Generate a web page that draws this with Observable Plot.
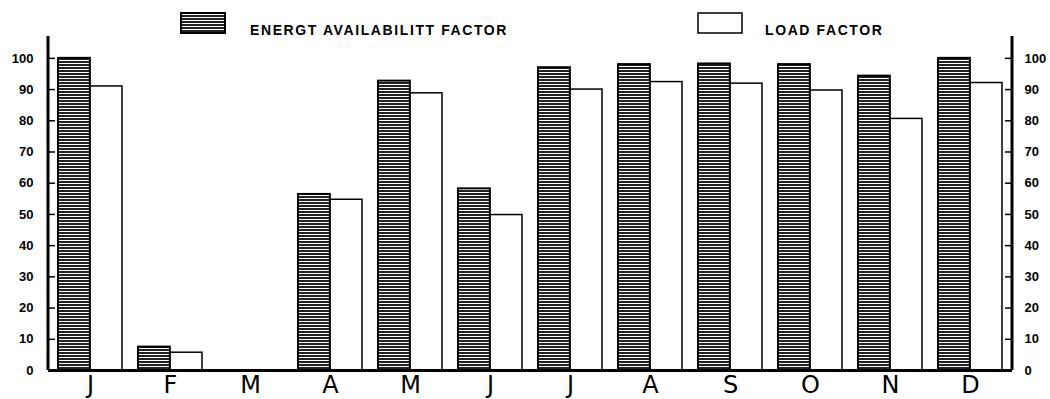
<!DOCTYPE html>
<html>
<head>
<meta charset="utf-8">
<script src="https://cdn.jsdelivr.net/npm/d3@7"></script>
<script src="https://cdn.jsdelivr.net/npm/@observablehq/plot@0.6"></script>
<style>
  html, body { margin: 0; padding: 0; background: #fff; }
  #legend { position: relative; width: 1050px; height: 34px; font-family: "Liberation Sans", Arial, sans-serif; font-weight: bold; font-size: 14px; letter-spacing: 1.6px; color: #000; }
  #legend .sw { position: absolute; top: 12px; width: 46px; height: 22px; box-sizing: border-box; }
  #legend .lab { position: absolute; top: 23px; line-height: 14px; white-space: nowrap; }
  #chart svg { display: block; }
</style>
</head>
<body>
<div id="legend"></div>
<div id="chart"></div>
<script>
// ---- data ----
const monthLabels = ["J", "F", "M", "A", "M", "J", "J", "A", "S", "O", "N", "D"];
const energyAvailability = [100, 7.5, 0, 56.4, 92.7, 58.2, 97, 98, 98.2, 98, 94.3, 100];
const loadFactor = [91, 5.7, 0, 54.7, 88.8, 49.8, 90, 92.4, 91.9, 89.7, 80.6, 92.1];
const seriesNames = ["ENERGT AVAILABILITT FACTOR", "LOAD FACTOR"];
const yTicks = [0, 10, 20, 30, 40, 50, 60, 70, 80, 90, 100];

const rows = monthLabels.map((m, i) => ({i, energy: energyAvailability[i], load: loadFactor[i]}));

// ---- legend (with stripe pattern defs) ----
const legend = document.getElementById("legend");
legend.innerHTML = `
  <svg width="0" height="0" style="position:absolute">
    <defs>
      <pattern id="stripes" patternUnits="userSpaceOnUse" width="6" height="3">
        <rect x="0" y="0" width="6" height="3" fill="#fff"/>
        <rect x="0" y="0" width="6" height="2" fill="#222"/>
      </pattern>
    </defs>
  </svg>
  <svg class="sw" style="left:180px" width="46" height="22"><rect x="1" y="1" width="44" height="20" fill="url(#stripes)" stroke="#000" stroke-width="2"/></svg>
  <div class="lab" style="left:250px">${seriesNames[0]}</div>
  <svg class="sw" style="left:697px" width="46" height="22"><rect x="1" y="1" width="44" height="20" fill="#fff" stroke="#000" stroke-width="1.5"/></svg>
  <div class="lab" style="left:765px">${seriesNames[1]}</div>
`;

// ---- chart ----
const W = 1050, H = 365, mL = 48, mR = 38;
const padIn = 0.2, padOut = 0.1;
const frameW = W - mL - mR;
const step = frameW / (monthLabels.length - padIn + 2 * padOut);
const half = step * (1 - padIn) / 2;
const font = "Liberation Sans, Arial, sans-serif";

const plot = Plot.plot({
  width: W,
  height: H,
  marginLeft: mL,
  marginRight: mR,
  marginTop: 2,
  marginBottom: 29,
  style: {background: "#fff", color: "#000"},
  x: {type: "band", domain: d3.range(monthLabels.length), paddingInner: padIn, paddingOuter: padOut, axis: null},
  y: {domain: [0, 107], axis: null},
  marks: [
    Plot.barY(rows, {x: "i", y: "energy", insetRight: half, fill: "url(#stripes)", stroke: "#000", strokeWidth: 2}),
    Plot.barY(rows, {x: "i", y: "load", insetLeft: half, fill: "#fff", stroke: "#000", strokeWidth: 1.5}),
    // inward ticks
    Plot.tickY(yTicks.slice(1), {y: d => d, insetRight: frameW - 7, stroke: "#000", strokeWidth: 1.5}),
    Plot.tickY(yTicks.slice(1), {y: d => d, insetLeft: frameW - 7, stroke: "#000", strokeWidth: 1.5}),
    // vertical axis lines (rects spanning the frame, inset down to 3px)
    Plot.rectY([0], {y1: 0, y2: 107, insetLeft: -1.5, insetRight: frameW - 1.5, fill: "#000"}),
    Plot.rectY([0], {y1: 0, y2: 107, insetLeft: frameW - 1.5, insetRight: -1.5, fill: "#000"}),
    // tick labels
    Plot.axisY(yTicks, {anchor: "left", tickSize: 0, tickPadding: 15, fontSize: 13, fontWeight: "bold", fontFamily: font, label: null}),
    Plot.axisY(yTicks, {anchor: "right", tickSize: 0, tickPadding: 12, fontSize: 13, fontWeight: "bold", fontFamily: font, label: null}),
    Plot.axisX({anchor: "bottom", tickSize: 0, tickPadding: 5, tickFormat: i => monthLabels[i], fontSize: 24, fontFamily: "DejaVu Sans, sans-serif", label: null}),
    Plot.ruleY([0], {stroke: "#000", strokeWidth: 3})
  ]
});
document.getElementById("chart").appendChild(plot);
</script>
</body>
</html>
